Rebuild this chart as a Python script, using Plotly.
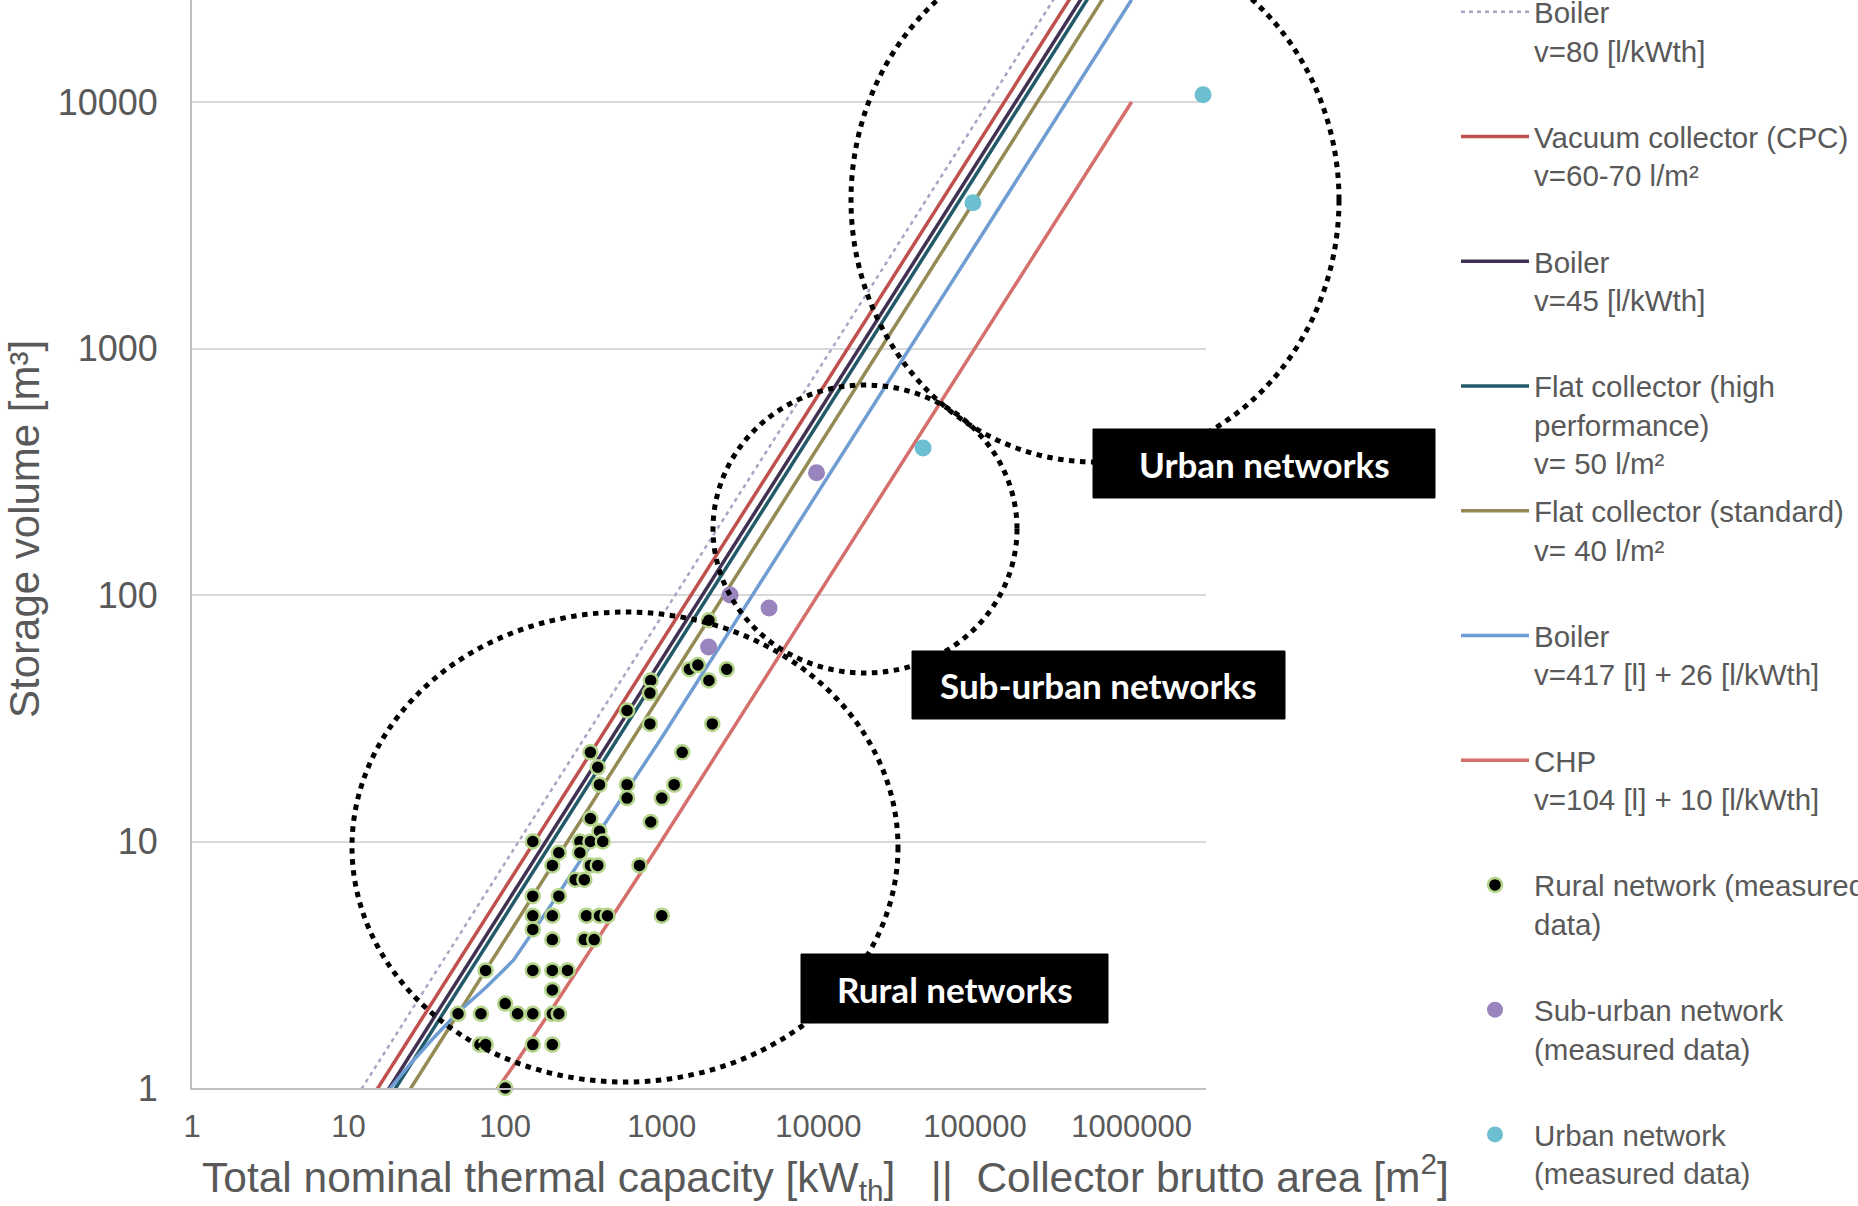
import plotly.graph_objects as go

# ---------------- data ----------------
boiler80_kw = [10, 1000000]
boiler80_m3 = [0.82, 82000]
vacuum_kw = [10, 1000000]
vacuum_m3 = [0.65, 65000]
boiler45_kw = [10, 1000000]
boiler45_m3 = [0.55, 55000]
flat_high_kw = [10, 1000000]
flat_high_m3 = [0.5, 50000]
flat_std_kw = [10, 1000000]
flat_std_m3 = [0.4, 40000]
boiler417_kw = [15, 18, 25, 35, 50, 75, 113, 184, 1000, 1000000]
boiler417_m3 = [0.85, 0.98, 1.26, 1.6, 2.03, 2.55, 3.3, 5.2, 26.4, 26000]
chp_kw = [80, 90, 120, 200, 1000, 1000000]
chp_m3 = [0.9, 1.0, 1.3, 2.1, 10.1, 10000]

rural_kw = [2000, 1500, 1700, 2600, 2000, 850, 840, 600, 840, 2100, 350, 1350, 390, 400, 600,
            1200, 600, 1000, 350, 850, 400, 150, 300, 350, 420, 220, 300, 200, 350, 390, 720,
            280, 320, 150, 220, 150, 200, 330, 400, 450, 1000, 150, 200, 320, 370, 75, 150, 200,
            250, 200, 100, 50, 70, 120, 150, 200, 220, 69, 75, 150, 200, 100]
rural_m3 = [79, 50, 52, 50, 45, 45, 40, 34, 30, 30, 23, 23, 20, 17, 17,
            17, 15, 15, 12.4, 12, 11, 10, 10, 10, 10, 9, 9, 8, 8, 8, 8,
            7, 7, 6, 6, 5, 5, 5, 5, 5, 5, 4.4, 4, 4, 4, 3, 3, 3,
            3, 2.5, 2.2, 2, 2, 2, 2, 2, 2, 1.5, 1.5, 1.5, 1.5, 1]
suburban_kw = [9730, 4840, 2727, 1990]
suburban_m3 = [313, 88.5, 100, 61.5]
urban_kw = [2860000, 97000, 46600]
urban_m3 = [10700, 3900, 395]

x_tickvals = [1, 10, 100, 1000, 10000, 100000, 1000000]
x_ticktext = ["1", "10", "100", "1000", "10000", "100000", "1000000"]
y_tickvals = [1, 10, 100, 1000, 10000]
y_ticktext = ["1", "10", "100", "1000", "10000"]

legend_names = [
    "Boiler<br>v=80 [l/kWth]<br> ",
    "Vacuum collector (CPC)<br>v=60-70 l/m²<br> ",
    "Boiler<br>v=45 [l/kWth]<br> ",
    "Flat collector (high<br>performance)<br>v= 50 l/m²",
    "Flat collector (standard)<br>v= 40 l/m²<br> ",
    "Boiler<br>v=417 [l] + 26 [l/kWth]<br> ",
    "CHP<br>v=104 [l] + 10 [l/kWth]<br> ",
    "Rural network (measured<br>data)<br> ",
    "Sub-urban network<br>(measured data)<br> ",
    "Urban network<br>(measured data)<br> ",
]

# ---------------- layout geometry (pixels) ----------------
W, H = 1858, 1206
PL, PR, PT, PB = 192, 1206, 0, 1088   # plot area edges


def px(xp):
    return (xp - PL) / (PR - PL)


def py(yp):
    return (PB - yp) / (PB - PT)


GREY = "#595959"
FONT = "Liberation Sans, Arial, sans-serif"

fig = go.Figure()

line_specs = [
    (boiler80_kw, boiler80_m3, "#a9a5c2", 2.5, "4px,4px"),
    (vacuum_kw, vacuum_m3, "#c0504d", 3.5, "solid"),
    (boiler45_kw, boiler45_m3, "#403152", 3.5, "solid"),
    (flat_high_kw, flat_high_m3, "#215968", 3.5, "solid"),
    (flat_std_kw, flat_std_m3, "#948a54", 3.5, "solid"),
    (boiler417_kw, boiler417_m3, "#6f9dd3", 3.5, "solid"),
    (chp_kw, chp_m3, "#d46f6b", 3.5, "solid"),
]
for i, (xs, ys, col, w, dash) in enumerate(line_specs):
    fig.add_trace(go.Scatter(
        x=xs, y=ys, mode="lines", name=legend_names[i],
        line=dict(color=col, width=w, dash=dash),
        legendgroup="g%d" % i,
    ))

fig.add_trace(go.Scatter(
    x=rural_kw, y=rural_m3, mode="markers", name=legend_names[7],
    marker=dict(color="black", size=14, line=dict(color="#b3d48a", width=2.5)),
    cliponaxis=False, legendgroup="g7",
))
fig.add_trace(go.Scatter(
    x=suburban_kw, y=suburban_m3, mode="markers", name=legend_names[8],
    marker=dict(color="#9a84bd", size=17), cliponaxis=False, legendgroup="g8",
))
fig.add_trace(go.Scatter(
    x=urban_kw, y=urban_m3, mode="markers", name=legend_names[9],
    marker=dict(color="#6bbfd1", size=17), cliponaxis=False, legendgroup="g9",
))

# ---------------- dotted ellipses and labels ----------------
shapes = []
ellipses = [  # (x0, y0, x1, y1) in page pixels
    (352, 612, 898, 1082),
    (713, 385, 1017, 673),
    (851, -62, 1339, 462),
]
for (x0, y0, x1, y1) in ellipses:
    shapes.append(dict(type="circle", xref="paper", yref="paper",
                       x0=px(x0), x1=px(x1), y0=py(y1), y1=py(y0),
                       line=dict(color="black", width=5, dash="5.5px,5.5px")))

boxes = [
    ("Urban networks", 1093, 429, 1435, 498),
    ("Sub-urban networks", 912, 651, 1285, 719),
    ("Rural networks", 801, 954, 1108, 1023),
]
annotations = []
for (txt, x0, y0, x1, y1) in boxes:
    shapes.append(dict(type="rect", xref="paper", yref="paper",
                       x0=px(x0), x1=px(x1), y0=py(y1), y1=py(y0),
                       fillcolor="black", line=dict(color="black", width=1)))
    annotations.append(dict(xref="paper", yref="paper", x=px((x0 + x1) / 2),
                            y=py((y0 + y1) / 2), text="<b>%s</b>" % txt, showarrow=False,
                            xanchor="center", yanchor="middle",
                            font=dict(family="Lato, Open Sans, sans-serif", size=35, color="white")))

# axis titles
annotations.append(dict(xref="paper", yref="paper", x=px(825), y=py(1177),
                        text="Total nominal thermal capacity [kW<sub>th</sub>]   ||  Collector brutto area [m<sup>2</sup>]",
                        showarrow=False, xanchor="center", yanchor="middle",
                        font=dict(family=FONT, size=42.5, color=GREY)))
annotations.append(dict(xref="paper", yref="paper", x=px(24), y=py(529),
                        text="Storage volume [m³]", textangle=-90,
                        showarrow=False, xanchor="center", yanchor="middle",
                        font=dict(family=FONT, size=42, color=GREY)))

fig.update_layout(
    width=W, height=H,
    margin=dict(l=PL, r=W - PR, t=PT, b=H - PB, pad=0, autoexpand=False),
    paper_bgcolor="white", plot_bgcolor="white",
    shapes=shapes, annotations=annotations,
    showlegend=True,
    legend=dict(x=px(1456), xanchor="left", y=py(-14), yanchor="top",
                font=dict(family=FONT, size=29.5, color=GREY),
                valign="top", itemwidth=68, tracegroupgap=6.7,
                traceorder="grouped", bgcolor="rgba(0,0,0,0)", maxheight=1400),
    xaxis=dict(type="log", range=[0, (PR - PL) / 156.6], tickvals=x_tickvals, ticktext=x_ticktext,
               showgrid=False, zeroline=False, showline=True, linecolor="#bfbfbf", linewidth=2,
               ticks="", tickfont=dict(family=FONT, size=31, color=GREY), ticklabelstandoff=10),
    yaxis=dict(type="log", range=[0, (PB - PT) / 246.5], tickvals=y_tickvals, ticktext=y_ticktext,
               showgrid=True, gridcolor="#d9d9d9", gridwidth=2, zeroline=False,
               showline=True, linecolor="#bfbfbf", linewidth=2,
               ticks="", tickfont=dict(family=FONT, size=36, color=GREY), ticklabelstandoff=25),
)

fig.write_html("out.html")
